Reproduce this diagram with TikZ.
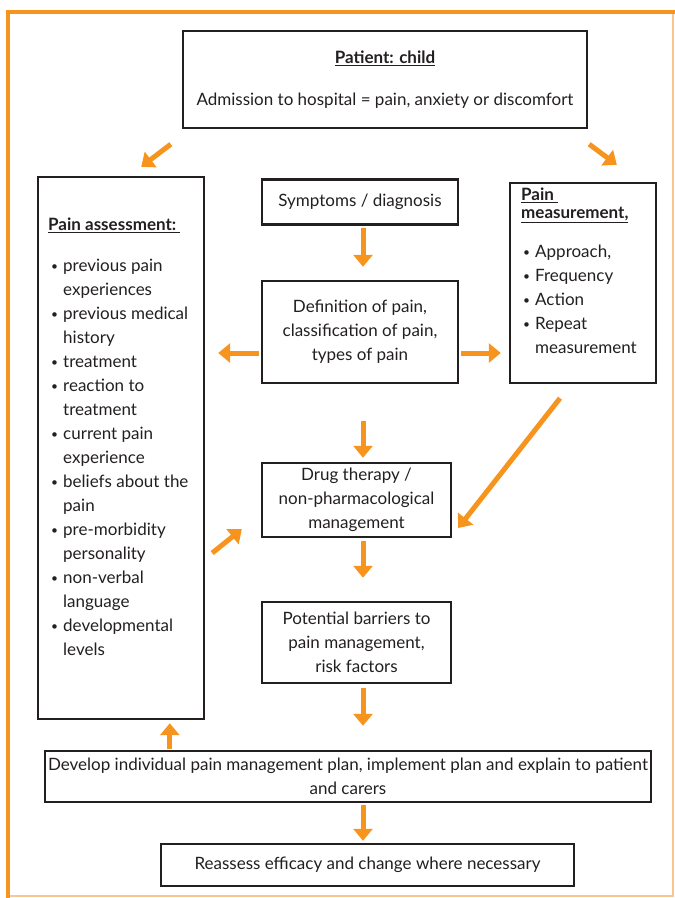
\documentclass[tikz,border=0pt]{standalone}
\usepackage{fontspec}
\setmainfont{Lato}
\usepackage{tikz}
\usetikzlibrary{arrows.meta,positioning}

\definecolor{floworange}{HTML}{F7941D}
\definecolor{frameorange}{HTML}{F5A04A}
\definecolor{boxgray}{HTML}{231F20}
\newcommand{\bul}{\makebox[12pt][l]{\raisebox{1pt}{\fontsize{12}{12}\selectfont\textbullet}}}
\newcommand{\ind}{\hspace*{12pt}}

\begin{document}
\begin{tikzpicture}[
    x=1pt, y=-1pt,
    box_style/.style={draw=boxgray, line width=2.4pt, inner sep=0pt, text=boxgray, align=center,
        font=\fontsize{17}{24}\selectfont},
    list_style/.style={anchor=north west, inner sep=0pt, text=boxgray, align=left,
        font=\fontsize{17}{24}\selectfont},
    flow_arrow_style/.style={draw=floworange, line width=5pt, -{Triangle[width=19pt,length=12pt]}}
]
\useasboundingbox (0,0) rectangle (675,898);

% orange frame
\draw[frameorange!60, line width=1.5pt] (8,896) -- (673,896) -- (673,12);
\draw[floworange, line width=4pt] (8,898) -- (8,12) -- (675,12);

% boxes
\node[box_style, minimum width=404pt, minimum height=97pt] (top) at (385,79.5)
    {\underline{\textbf{Patient: child}}\\[18pt]Admission to hospital = pain, anxiety or discomfort};
\node[box_style, minimum width=166pt, minimum height=542pt] (assess) at (121,448) {};
\node[box_style, minimum width=196pt, minimum height=45pt] (symp) at (360,202) {Symptoms / diagnosis};
\node[box_style, minimum width=196pt, minimum height=102pt] (defn) at (360,332)
    {Definition of pain,\\classification of pain,\\types of pain};
\node[box_style, minimum width=146pt, minimum height=200pt] (meas) at (583,283) {};
\node[box_style, minimum width=189pt, minimum height=74pt] (drug) at (356.5,500)
    {Drug therapy /\\non-pharmacological\\management};
\node[box_style, minimum width=189pt, minimum height=81pt] (pot) at (356.5,642.5)
    {Potential barriers to\\pain management,\\risk factors};
\node[box_style, minimum width=606pt, minimum height=51pt] (develop) at (348,776.5)
    {Develop individual pain management plan, implement plan and explain to patient\\and carers};
\node[box_style, minimum width=413pt, minimum height=42pt] (reassess) at (367.5,865)
    {Reassess efficacy and change where necessary};

% lists
\node[list_style] (assess_text) at (48,218)
    {\underline{\textbf{Pain assessment:\ }}\\[17pt]
     \hspace*{3pt}\bul previous pain\\ \hspace*{3pt}\ind experiences\\
     \hspace*{3pt}\bul previous medical\\ \hspace*{3pt}\ind history\\
     \hspace*{3pt}\bul treatment\\
     \hspace*{3pt}\bul reaction to\\ \hspace*{3pt}\ind treatment\\
     \hspace*{3pt}\bul current pain\\ \hspace*{3pt}\ind experience\\
     \hspace*{3pt}\bul beliefs about the\\ \hspace*{3pt}\ind pain\\
     \hspace*{3pt}\bul pre-morbidity\\ \hspace*{3pt}\ind personality\\
     \hspace*{3pt}\bul non-verbal\\ \hspace*{3pt}\ind language\\
     \hspace*{3pt}\bul developmental\\ \hspace*{3pt}\ind levels};
\node[list_style] (meas_text) at (521,188)
    {\underline{\textbf{Pain\ }}\\[-6pt]\underline{\textbf{measurement,}}\\[15pt]
     \hspace*{2pt}\bul Approach,\\
     \hspace*{2pt}\bul Frequency\\
     \hspace*{2pt}\bul Action\\
     \hspace*{2pt}\bul Repeat\\
     \hspace*{2pt}\ind measurement};

% arrows
\draw[flow_arrow_style] ([shift={(-11,15)}]top.south west) -- ([shift={(-64,-9)}]assess.north east);
\draw[flow_arrow_style] ([shift={(1,15)}]top.south east) -- ([shift={(108,-17)}]meas.north west);
\draw[flow_arrow_style, shorten <=2pt, shorten >=13pt] ([xshift=3pt]symp.south) -- ([xshift=3pt]defn.north);
\draw[flow_arrow_style, shorten <=2pt, shorten >=13pt] ([shift={(0,21)}]defn.west) -- ([shift={(0,21)}]defn.west -| assess.east);
\draw[flow_arrow_style, shorten <=2pt, shorten >=8pt] ([shift={(0,21)}]defn.east) -- ([shift={(0,21)}]defn.east -| meas.west);
\draw[flow_arrow_style, shorten <=37pt, shorten >=4pt] ([xshift=3pt]defn.south) -- ([xshift=3pt]defn.south |- drug.north);
\draw[flow_arrow_style] ([shift={(-23,14)}]meas.south) -- ([shift={(6,28)}]drug.east);
\draw[flow_arrow_style] ([shift={(7,105)}]assess.east) -- ([shift={(-19,-9)}]drug.south west);
\draw[flow_arrow_style, shorten <=3pt, shorten >=23pt] ([xshift=6.5pt]drug.south) -- ([xshift=6.5pt]pot.north);
\draw[flow_arrow_style, shorten <=4pt, shorten >=24pt] ([xshift=6.5pt]pot.south) -- ([xshift=6.5pt]pot.south |- develop.north);
\draw[flow_arrow_style, shorten <=1pt, shorten >=3pt] ([xshift=126pt]develop.north west) -- ([xshift=126pt]develop.north west |- assess.south);
\draw[flow_arrow_style, shorten <=2pt, shorten >=2pt] ([xshift=15pt]develop.south) -- ([xshift=15pt]develop.south |- reassess.north);

\end{tikzpicture}
\end{document}
